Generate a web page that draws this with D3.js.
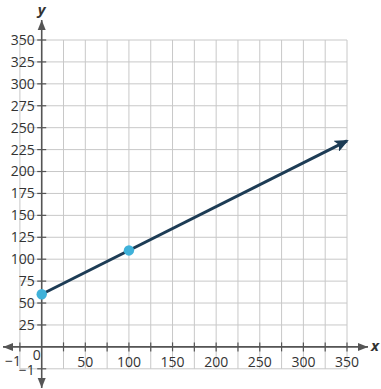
<!DOCTYPE html>
<html><head><meta charset="utf-8">
<script src="https://cdn.jsdelivr.net/npm/d3@7"></script>
<style>body{margin:0;background:#fff}svg{display:block}text{font-family:"Open Sans",sans-serif;fill:#333}</style>
</head><body>
<svg id="c" width="381" height="389"></svg>
<script>
const xTicks = [50,100,150,200,250,300,350];
const yTicks = [25,50,75,100,125,150,175,200,225,250,275,300,325,350];
const lineX = [0, 350];
const lineY = [60, 235];
const pointsX = [0, 100];
const pointsY = [60, 110];

const svg = d3.select("#c");
const x = d3.scaleLinear().domain([-25,350]).range([19.9,347.0]);
const y = d3.scaleLinear().domain([-25,350]).range([368.8,40.0]);

// grid
const gridVals = d3.range(-25, 351, 25);
const g = svg.append("g").attr("stroke","#c8c8c8").attr("stroke-width",1);
gridVals.forEach(v=>{
  g.append("line").attr("x1",x(v)).attr("x2",x(v)).attr("y1",y(-25)).attr("y2",y(350));
  g.append("line").attr("y1",y(v)).attr("y2",y(v)).attr("x1",x(-25)).attr("x2",x(350));
});

// axes
const axCol = "#555";
const defs = svg.append("defs");
defs.append("marker").attr("id","ah").attr("viewBox","0 0 10 10").attr("refX",10).attr("refY",5)
  .attr("markerWidth",10).attr("markerHeight",10).attr("markerUnits","userSpaceOnUse").attr("orient","auto-start-reverse")
  .append("path").attr("d","M0,1 L10,5 L0,9 Z").attr("fill",axCol);
svg.append("line").attr("x1",3).attr("x2",368).attr("y1",y(0)).attr("y2",y(0))
  .attr("stroke",axCol).attr("stroke-width",1.6).attr("marker-start","url(#ah)").attr("marker-end","url(#ah)");
svg.append("line").attr("x1",x(0)).attr("x2",x(0)).attr("y1",20).attr("y2",388)
  .attr("stroke",axCol).attr("stroke-width",1.6).attr("marker-start","url(#ah)").attr("marker-end","url(#ah)");

// ticks
const tk = svg.append("g").attr("stroke",axCol).attr("stroke-width",1.2);
gridVals.filter(v=>v!==0).forEach(v=>{
  tk.append("line").attr("x1",x(v)).attr("x2",x(v)).attr("y1",y(0)-4.5).attr("y2",y(0)+4.5);
  tk.append("line").attr("y1",y(v)).attr("y2",y(v)).attr("x1",x(0)-4.5).attr("x2",x(0)+4.5);
});

// labels
const fs = 14;
yTicks.forEach(v=>{
  svg.append("text").attr("x",x(0)-7).attr("y",y(v)).attr("dy","0.35em").attr("text-anchor","end")
    .attr("font-size",fs).text(v);
});
xTicks.forEach(v=>{
  svg.append("text").attr("x",x(v)).attr("y",y(0)+20).attr("text-anchor","middle")
    .attr("font-size",fs).text(v);
});
svg.append("text").attr("x",x(-25)-7).attr("y",y(0)+19).attr("text-anchor","middle").attr("font-size",fs).text("\u22121");
svg.append("text").attr("x",x(0)-7).attr("y",y(-25)+1).attr("dy","0.35em").attr("text-anchor","end").attr("font-size",fs).text("\u22121");
svg.append("text").attr("x",x(0)-5).attr("y",y(0)+13).attr("text-anchor","middle").attr("font-size",fs).text("0");
svg.append("text").attr("x",375).attr("y",y(0)+4).attr("text-anchor","middle").attr("font-size",15)
  .attr("font-style","italic").attr("font-weight","bold").text("x");
svg.append("text").attr("x",x(0)).attr("y",15).attr("text-anchor","middle").attr("font-size",15)
  .attr("font-style","italic").attr("font-weight","bold").text("y");

// line
const lc = "#1d3c55";
defs.append("marker").attr("id","la").attr("viewBox","0 0 14 12").attr("refX",12).attr("refY",6)
  .attr("markerWidth",14).attr("markerHeight",12).attr("markerUnits","userSpaceOnUse").attr("orient","auto")
  .append("path").attr("d","M0,0 L14,6 L0,12 L3,6 Z").attr("fill",lc);
svg.append("line").attr("x1",x(lineX[0])).attr("y1",y(lineY[0])).attr("x2",x(lineX[1])).attr("y2",y(lineY[1]))
  .attr("stroke",lc).attr("stroke-width",3).attr("marker-end","url(#la)");

// points
pointsX.forEach((px,i)=>{
  svg.append("circle").attr("cx",x(px)).attr("cy",y(pointsY[i])).attr("r",5.2).attr("fill","#3fb1d9");
});
</script>
</body></html>
